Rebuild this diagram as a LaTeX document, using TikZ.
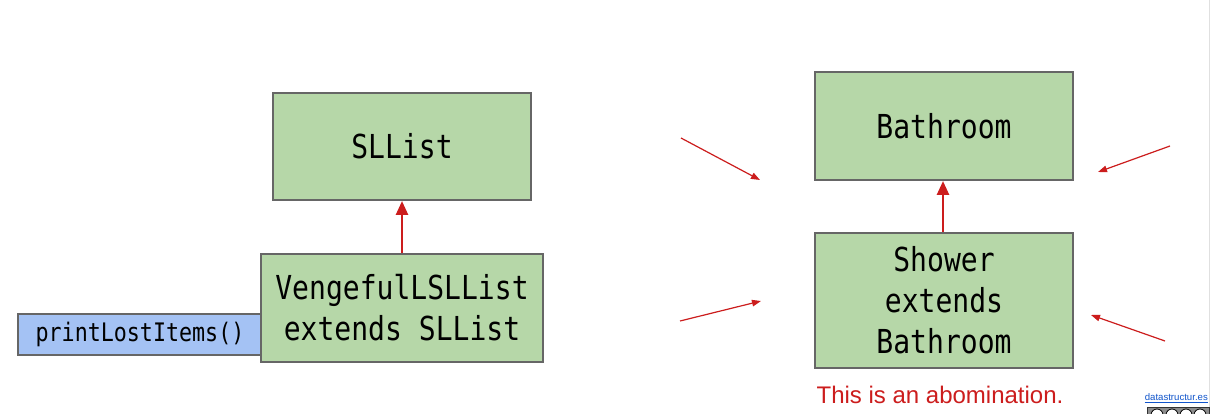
\documentclass[tikz,border=0pt]{standalone}
\usepackage{fontspec}
\setmainfont{Liberation Sans}
\newfontfamily\codefont[FakeStretch=0.85]{DejaVu Sans Mono}
\usetikzlibrary{arrows.meta}
\definecolor{boxgreen}{HTML}{B6D7A8}
\definecolor{boxblue}{HTML}{A4C2F4}
\definecolor{boxedge}{HTML}{666666}
\definecolor{arrowred}{HTML}{CC1D1D}
\definecolor{linkblue}{HTML}{1155CC}
\tikzset{
  x=1pt, y=-1pt,
  classbox/.style={draw=boxedge, line width=2pt, fill=boxgreen, inner sep=0pt,
    align=center, font=\codefont\fontsize{33}{41}\selectfont},
  methodbox/.style={draw=boxedge, line width=2pt, fill=boxblue, inner sep=0pt,
    align=center, font=\codefont\fontsize{25.5}{30}\selectfont},
  inherit/.style={draw=arrowred, line width=2.6pt,
    -{Triangle[length=14pt,width=12pt]}},
  pointer/.style={draw=arrowred, line width=1.2pt,
    -{Triangle[length=9pt,width=6.5pt]}},
}
\begin{document}
\begin{tikzpicture}
\useasboundingbox[fill=white] (0,0) rectangle (1211,414);
% slide edge
\draw[black!12, line width=1pt] (1209.5,0) -- (1209.5,414);

% left: list hierarchy
\node[methodbox, minimum width=244pt, minimum height=41pt] (print) at (140,334.5) {printLostItems()};
\node[classbox, minimum width=258pt, minimum height=107pt] (sllist) at (402,146.5) {SLList};
\node[classbox, minimum width=282pt, minimum height=108pt] (veng) at (402,308) {VengefulLSLList\\extends SLList};
\draw[inherit] (veng.north) -- (sllist.south);

% right: bathroom hierarchy
\node[classbox, minimum width=258pt, minimum height=108pt] (bath) at (944,126) {Bathroom};
\node[classbox, minimum width=258pt, minimum height=135pt] (shower) at (944,300.5) {Shower\\extends\\Bathroom};
\draw[inherit] (shower.north -| 943,0) -- (bath.south -| 943,0);

% pointing arrows
\coordinate (p1s) at (681,138);  \coordinate (p1e) at (760,180);
\coordinate (p2s) at (680,321);  \coordinate (p2e) at (761,301);
\coordinate (p3s) at (1170,146); \coordinate (p3e) at (1098,172);
\coordinate (p4s) at (1165,341); \coordinate (p4e) at (1091,315);
\draw[pointer] (p1s) -- (p1e);
\draw[pointer] (p2s) -- (p2e);
\draw[pointer] (p3s) -- (p3e);
\draw[pointer] (p4s) -- (p4e);

\node[text=arrowred, font=\fontsize{24}{28}\selectfont, inner sep=0pt] (abom) at (940,395) {This is an abomination.};

% footer link and licence badge
\node[text=linkblue, font=\fontsize{9.6}{11}\selectfont, inner sep=0pt, anchor=east] (link) at (1208,397) {datastructur.es};
\draw[linkblue, line width=0.6pt] ([yshift=-1.5pt]link.south west) -- ([yshift=-1.5pt]link.south east);
\begin{scope}
\clip (1140,405) rectangle (1211,414);
\node[draw=black!80, fill=black!45, line width=0.8pt, minimum width=62pt, minimum height=16pt, inner sep=0pt] (badge) at (1178,415) {};
\foreach \cx in {1157,1172,1186,1200}
  \draw[black, fill=white, line width=0.8pt] (\cx,415) circle (6pt);
\end{scope}
\end{tikzpicture}
\end{document}
